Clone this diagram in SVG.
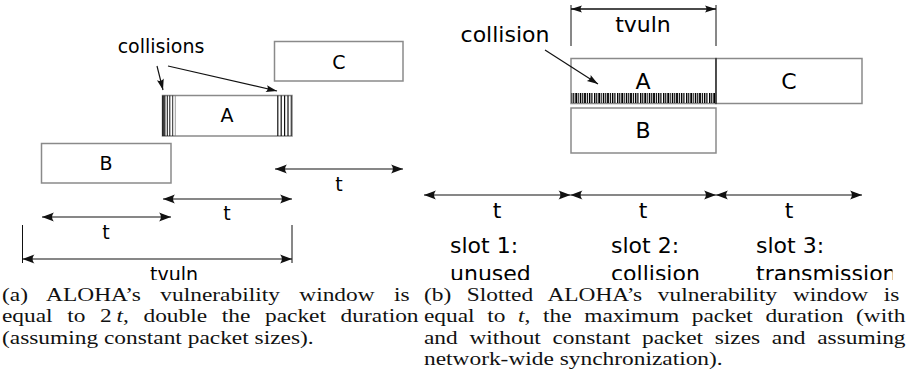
<svg xmlns="http://www.w3.org/2000/svg" width="907" height="392" viewBox="0 0 907 392">
  <style>
    .box { fill: #fff; stroke: #8a8a8a; stroke-width: 1.5; }
    .lbl { font-family: "DejaVu Sans", sans-serif; fill: #000; text-anchor: middle; }
    .lbl-l { font-size: 19px; }
    .lbl-r { font-size: 22px; }
    .start { text-anchor: start; }
    .dim { fill: none; stroke: #111; stroke-width: 1.2; }
    .tick { fill: none; stroke: #111; stroke-width: 1; }
    .hatch { stroke: #111; }
    .cap { font-family: "Liberation Serif", "Times New Roman", serif; font-size: 23.4px; fill: #111; }
  </style>
  <defs>
    <marker id="head" viewBox="-13 -5 14 10" refX="0" refY="0" markerWidth="14" markerHeight="10" markerUnits="userSpaceOnUse" orient="auto-start-reverse">
      <path d="M0,0 L-12,-4.5 C-9.5,-1.8 -9.5,1.8 -12,4.5 Z" fill="#111"/>
    </marker>
    <marker id="headS" viewBox="-13 -5 14 10" refX="0" refY="0" markerWidth="14" markerHeight="10" markerUnits="userSpaceOnUse" orient="auto">
      <path d="M0,0 L-11,-3.5 C-9,-1.4 -9,1.4 -11,3.5 Z" fill="#111"/>
    </marker>
    <pattern id="ticks" x="571" y="93" width="23" height="10" patternUnits="userSpaceOnUse">
      <rect x="0" y="0" width="1.4" height="10" fill="#000"/>
      <rect x="2.2" y="0" width="1.1" height="10" fill="#000"/>
      <rect x="4.3" y="0" width="1.7" height="10" fill="#000"/>
      <rect x="6.7" y="0" width="1" height="10" fill="#000"/>
      <rect x="8.8" y="0" width="1.5" height="10" fill="#000"/>
      <rect x="11.2" y="0" width="1.1" height="10" fill="#000"/>
      <rect x="13.1" y="0" width="1.8" height="10" fill="#000"/>
      <rect x="15.8" y="0" width="1.1" height="10" fill="#000"/>
      <rect x="17.9" y="0" width="1.5" height="10" fill="#000"/>
      <rect x="20.3" y="0" width="1.2" height="10" fill="#000"/>
    </pattern>
    <clipPath id="fig">
      <rect x="0" y="0" width="892.5" height="280"/>
    </clipPath>
  </defs>

  <rect width="907" height="392" fill="#fff"/>

  <g clip-path="url(#fig)">
    <!-- (a) pure ALOHA -->
    <g id="a-C">
      <rect class="box" x="274.5" y="41.5" width="128.5" height="39.5"/>
      <text class="lbl lbl-l" x="339" y="69">C</text>
    </g>
    <g id="a-A">
      <rect class="box" x="162.5" y="95.5" width="129.5" height="40.5"/>
      <g class="hatch">
        <line x1="163" y1="95.5" x2="163" y2="136" stroke-width="1.6"/>
        <line x1="164.8" y1="95.5" x2="164.8" y2="136" stroke-width="1.2"/>
        <line x1="167.3" y1="95.5" x2="167.3" y2="136" stroke-width="1"/>
        <line x1="169.8" y1="95.5" x2="169.8" y2="136" stroke-width="1"/>
        <line x1="172.7" y1="95.5" x2="172.7" y2="136" stroke-width="0.9"/>
        <line x1="175.3" y1="95.5" x2="175.3" y2="136" stroke-width="0.7" stroke="#777"/>
        <line x1="277.8" y1="95.5" x2="277.8" y2="136" stroke-width="1.2"/>
        <line x1="281.2" y1="95.5" x2="281.2" y2="136" stroke-width="1.2"/>
        <line x1="284.6" y1="95.5" x2="284.6" y2="136" stroke-width="1.2"/>
        <line x1="288" y1="95.5" x2="288" y2="136" stroke-width="1.2"/>
        <line x1="291.2" y1="95.5" x2="291.2" y2="136" stroke-width="0.9"/>
      </g>
      <text class="lbl lbl-l" x="227" y="122">A</text>
    </g>
    <g id="a-B">
      <rect class="box" x="41.5" y="143.5" width="129.5" height="39.5"/>
      <text class="lbl lbl-l" x="106" y="170">B</text>
    </g>
    <g id="a-labels">
      <text class="lbl lbl-l" x="161" y="53">collisions</text>
      <text class="lbl lbl-l" x="339" y="191">t</text>
      <text class="lbl lbl-l" x="227" y="220">t</text>
      <text class="lbl lbl-l" x="106" y="239">t</text>
      <text class="lbl lbl-l" x="174" y="280.5">tvuln</text>
    </g>

    <!-- (b) slotted ALOHA -->
    <g id="b-A">
      <rect class="box" x="571" y="58.5" width="145" height="45"/>
      <rect x="571.5" y="93" width="144" height="10" fill="url(#ticks)"/>
      <text class="lbl lbl-r" x="643" y="89">A</text>
    </g>
    <g id="b-C">
      <rect class="box" x="716" y="58.5" width="146" height="45"/>
      <line x1="716" y1="58" x2="716" y2="104" stroke="#333" stroke-width="1.5"/>
      <text class="lbl lbl-r" x="789" y="89">C</text>
    </g>
    <g id="b-B">
      <rect class="box" x="571" y="108" width="145" height="45"/>
      <text class="lbl lbl-r" x="643" y="138">B</text>
    </g>
    <g id="b-labels">
      <text class="lbl lbl-r" x="643" y="32">tvuln</text>
      <text class="lbl lbl-r" x="505" y="42">collision</text>
      <text class="lbl lbl-r" x="497" y="218">t</text>
      <text class="lbl lbl-r" x="643" y="218">t</text>
      <text class="lbl lbl-r" x="789" y="218">t</text>
      <text class="lbl lbl-r start" x="450" y="253">slot 1:</text>
      <text class="lbl lbl-r start" x="450" y="281">unused</text>
      <text class="lbl lbl-r start" x="611" y="253">slot 2:</text>
      <text class="lbl lbl-r start" x="611" y="281">collision</text>
      <text class="lbl lbl-r start" x="756" y="253">slot 3:</text>
      <text class="lbl lbl-r start" x="756" y="281">transmission</text>
    </g>

    <!-- connectors: dimension arrows, extension ticks and pointers -->
    <g id="connectors">
      <line class="dim" x1="275" y1="169" x2="403" y2="169" marker-start="url(#head)" marker-end="url(#head)"/>
      <line class="dim" x1="163" y1="199" x2="292" y2="199" marker-start="url(#head)" marker-end="url(#head)"/>
      <line class="dim" x1="42" y1="217" x2="171" y2="217" marker-start="url(#head)" marker-end="url(#head)"/>
      <line class="tick" x1="22.5" y1="225" x2="22.5" y2="263"/>
      <line class="tick" x1="292" y1="225" x2="292" y2="263"/>
      <line class="dim" x1="22.5" y1="259" x2="292" y2="259" marker-start="url(#head)" marker-end="url(#head)"/>
      <line class="dim" x1="157" y1="66" x2="163" y2="90" marker-end="url(#headS)"/>
      <line class="dim" x1="168" y1="66" x2="277" y2="91" marker-end="url(#headS)"/>

      <line class="tick" x1="571" y1="5" x2="571" y2="46"/>
      <line class="tick" x1="716" y1="5" x2="716" y2="46"/>
      <line class="dim" x1="571" y1="9" x2="716" y2="9" marker-end="url(#headS)"/>
      <line class="dim" x1="716" y1="9" x2="571" y2="9" marker-end="url(#headS)"/>
      <line class="dim" x1="545" y1="50" x2="598" y2="84" marker-end="url(#headS)"/>
      <line class="dim" x1="424" y1="195" x2="570.5" y2="195" marker-start="url(#head)" marker-end="url(#head)"/>
      <line class="dim" x1="570.5" y1="195" x2="716" y2="195" marker-start="url(#head)" marker-end="url(#head)"/>
      <line class="dim" x1="716" y1="195" x2="862" y2="195" marker-start="url(#head)" marker-end="url(#head)"/>
    </g>
  </g>

  <!-- captions: wide serif set in a vertically compressed frame,
       justified lines widened through their inter-word spaces -->
  <g id="captions" transform="scale(1,0.8)">
    <text class="cap" x="2" y="376.25" word-spacing="13.6">(a) ALOHA’s vulnerability window is</text>
    <text class="cap" x="2" y="402.5" word-spacing="8.8">equal to 2&#8201;<tspan font-style="italic">t</tspan>, double the packet duration</text>
    <text class="cap" x="2" y="430">(assuming constant packet sizes).</text>
    <text class="cap" x="424" y="376.25" word-spacing="9.75">(b) Slotted ALOHA’s vulnerability window is</text>
    <text class="cap" x="424" y="402.5" word-spacing="6.8">equal to <tspan font-style="italic">t</tspan>, the maximum packet duration (with</text>
    <text class="cap" x="424" y="430" word-spacing="5.8">and without constant packet sizes and assuming</text>
    <text class="cap" x="424" y="456.25">network-wide synchronization).</text>
  </g>
</svg>
